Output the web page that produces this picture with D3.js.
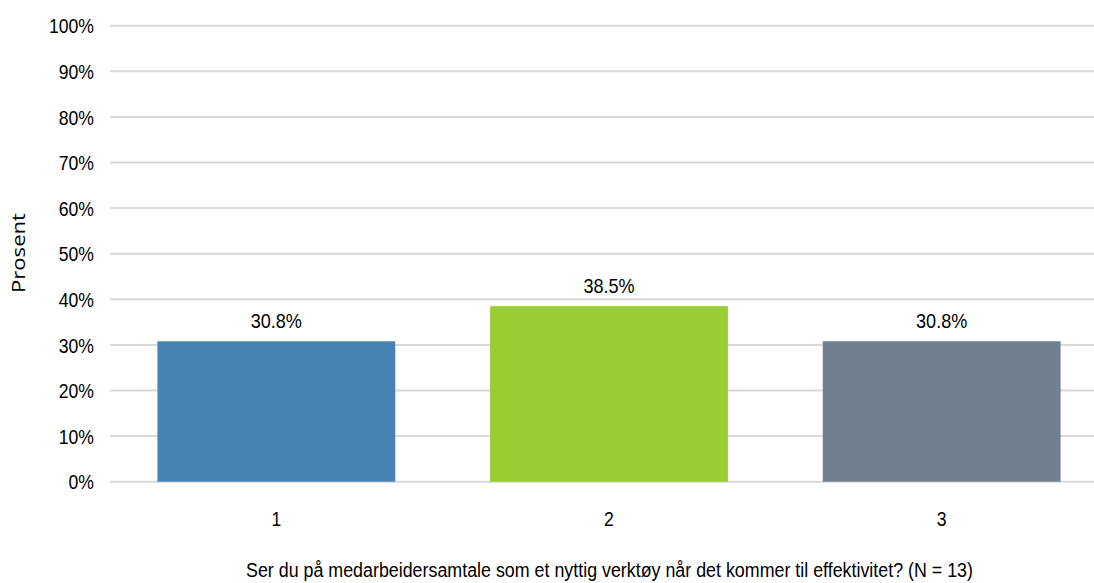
<!DOCTYPE html>
<html>
<head>
<meta charset="utf-8">
<script src="https://cdn.jsdelivr.net/npm/d3@7"></script>
<style>
  html, body { margin: 0; padding: 0; background: #fff; }
  svg { display: block; }
  text { font-family: "Liberation Sans", sans-serif; fill: #000; }
</style>
</head>
<body>
<svg id="chart" width="1094" height="583"></svg>
<script>
const categories = ["1", "2", "3"];
const values = [30.8, 38.5, 30.8];
const colors = ["#4682B4", "#9ACD32", "#708090"];
const yTicks = [0, 10, 20, 30, 40, 50, 60, 70, 80, 90, 100];
const yAxisTitle = "Prosent";
const xAxisTitle = "Ser du på medarbeidersamtale som et nyttig verktøy når det kommer til effektivitet? (N = 13)";

const svg = d3.select("#chart");
const W = 1094, H = 583;
const plotLeft = 110, plotRight = 1108, plotTop = 25.7, plotBottom = 481.7;

const x = d3.scaleBand().domain(categories).range([plotLeft, plotRight]).paddingInner(0.285).paddingOuter(0.1425);
const y = d3.scaleLinear().domain([0, 100]).range([plotBottom, plotTop]);

function condense(sel, f) {
  sel.each(function () {
    const w = this.getComputedTextLength();
    d3.select(this).attr("textLength", w * f).attr("lengthAdjust", "spacingAndGlyphs");
  });
}

// gridlines
svg.append("g").selectAll("line").data(yTicks).join("line")
  .attr("x1", plotLeft).attr("x2", W)
  .attr("y1", d => y(d)).attr("y2", d => y(d))
  .attr("stroke", "#d9d9d9").attr("stroke-width", 2);

// y axis labels
const yAxis = d3.axisLeft(y).tickValues(yTicks).tickFormat(d => d + "%").tickSize(0).tickPadding(0);
const ya = svg.append("g").attr("transform", `translate(94,0)`).call(yAxis);
ya.attr("font-family", null).attr("font-size", null);
ya.select(".domain").remove();
ya.selectAll("text").attr("font-size", 20).attr("dy", "0.36em");
condense(ya.selectAll("text"), 0.88);

// bars
svg.append("g").selectAll("rect").data(values).join("rect")
  .attr("x", (d, i) => x(categories[i]))
  .attr("width", x.bandwidth())
  .attr("y", d => y(d))
  .attr("height", d => y(0) - y(d))
  .attr("fill", (d, i) => colors[i]);

// value labels
const vl = svg.append("g").selectAll("text").data(values).join("text")
  .attr("x", (d, i) => x(categories[i]) + x.bandwidth() / 2)
  .attr("y", d => y(d) - 13)
  .attr("text-anchor", "middle")
  .attr("font-size", 21)
  .text(d => d.toFixed(1) + "%");
condense(vl, 0.86);

// x axis labels
const xAxis = d3.axisBottom(x).tickSize(0).tickPadding(0);
const xa = svg.append("g").attr("transform", `translate(0,${plotBottom})`).call(xAxis);
xa.attr("font-family", null).attr("font-size", null);
xa.select(".domain").remove();
xa.selectAll("text").attr("font-size", 20).attr("dy", null).attr("y", 44);
condense(xa.selectAll("text"), 0.88);

// y axis title
svg.append("text")
  .attr("transform", "translate(25,253) rotate(-90)")
  .attr("text-anchor", "middle")
  .attr("font-size", 18)
  .style("font-family", "'Open Sans', sans-serif")
  .attr("textLength", 80)
  .attr("lengthAdjust", "spacingAndGlyphs")
  .text(yAxisTitle);

// x axis title
svg.append("text")
  .attr("x", 246).attr("y", 577)
  .attr("textLength", 727)
  .attr("lengthAdjust", "spacingAndGlyphs")
  .attr("font-size", 20)
  .text(xAxisTitle);
</script>
</body>
</html>
